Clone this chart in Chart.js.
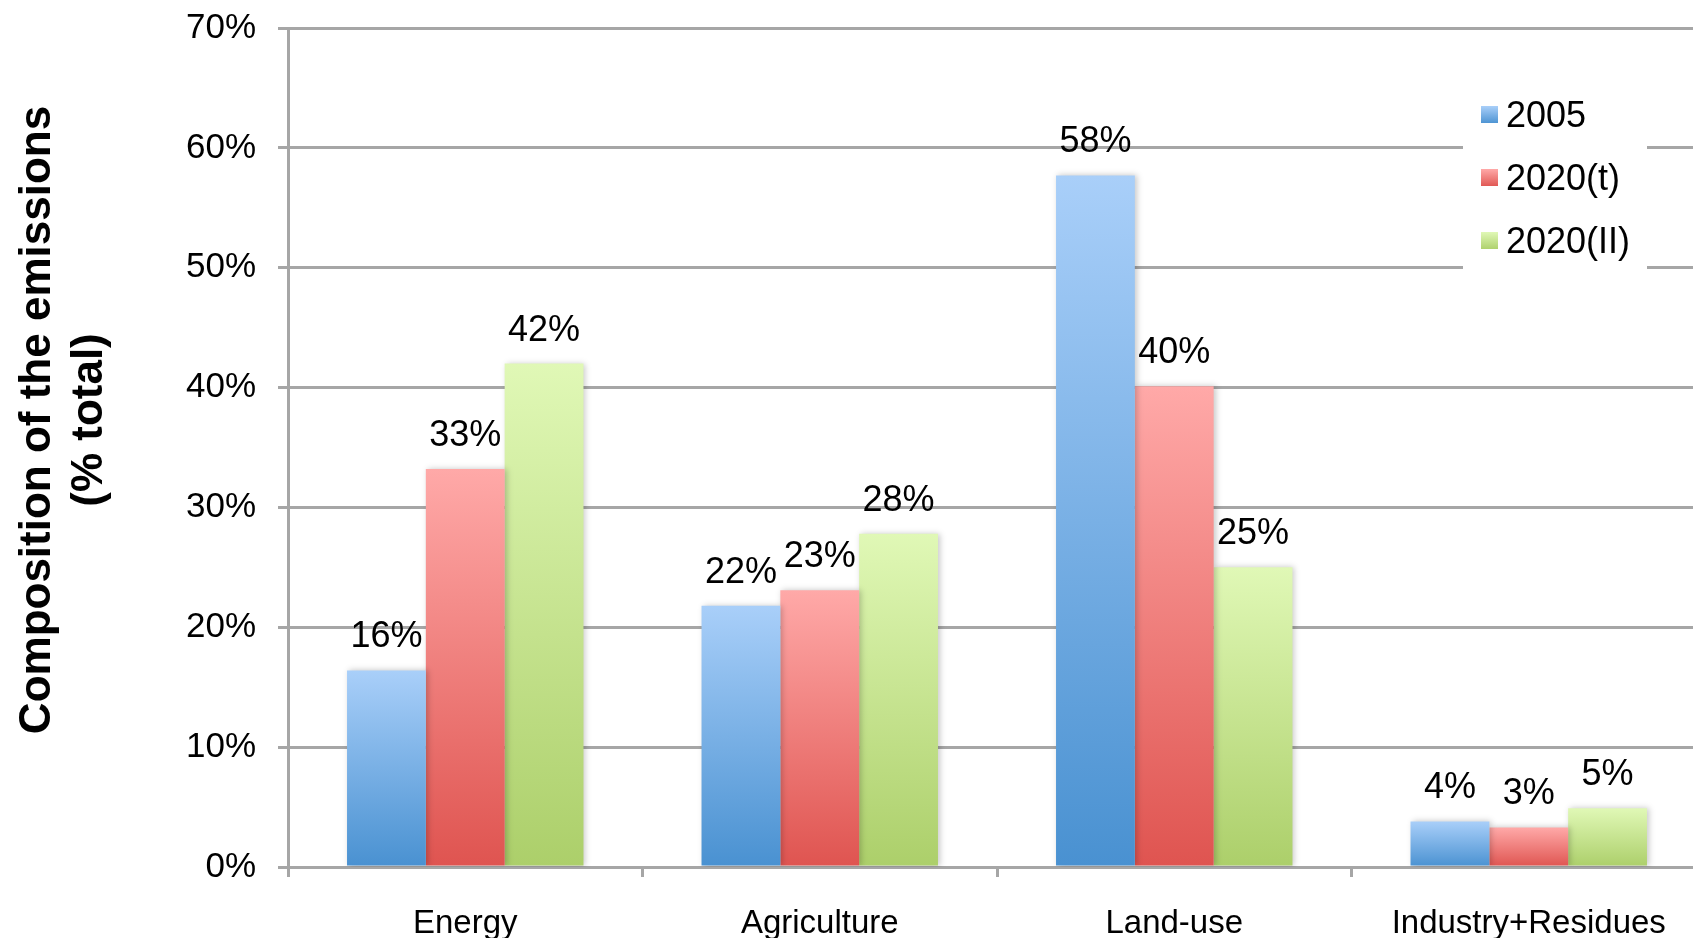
<!DOCTYPE html>
<html>
<head>
<meta charset="utf-8">
<script src="https://cdn.jsdelivr.net/npm/chart.js@4/dist/chart.umd.min.js"></script>
<style>
    html, body { margin: 0; padding: 0; background: #fff; overflow: hidden; }
    #wrap { width: 1706px; height: 938px; }
</style>
</head>
<body>
<div id="wrap"><canvas id="emissionsChart"></canvas></div>
<script>
    // emission shares per sector
    const categories = ['Energy', 'Agriculture', 'Land-use', 'Industry+Residues'];
    const seriesNames = ['2005', '2020(t)', '2020(II)'];
    const values2005 = [16.4, 21.8, 57.7, 3.8];
    const values2020t = [33.2, 23.1, 40.1, 3.3];
    const values2020II = [42.0, 27.8, 25.0, 4.9];
    const yTicks = [0, 10, 20, 30, 40, 50, 60, 70];
    const yTitle = ['Composition of the emissions', '(% total)'];

    const gridGrey = '#a6a6a6';
    const fontFamily = '"Liberation Sans", Arial, sans-serif';

    // light top -> darker bottom, for each series
    const shades = [
        ['#a9cff9', '#4991d1'],
        ['#ffa9a8', '#df5450'],
        ['#e0f8b6', '#accf6a']
    ];

    function barGradient(top, bottom) {
        return c => {
            const chart = c.chart;
            if (!chart.chartArea || c.raw == null) return bottom;
            const y = chart.scales.y;
            const g = chart.ctx.createLinearGradient(0, y.getPixelForValue(c.raw), 0, y.getPixelForValue(0));
            g.addColorStop(0, top);
            g.addColorStop(1, bottom);
            return g;
        };
    }

    // soft shadow behind the bars
    const barShadow = {
        id: 'barShadow',
        beforeDatasetsDraw(chart) {
            const ctx = chart.ctx;
            ctx.save();
            ctx.shadowColor = 'rgba(0,0,0,0.22)';
            ctx.shadowBlur = 6;
            ctx.shadowOffsetX = 2;
        },
        afterDatasetsDraw(chart) {
            chart.ctx.restore();
        }
    };

    // value labels above each bar
    const valueLabels = {
        id: 'valueLabels',
        afterDatasetsDraw(chart) {
            const ctx = chart.ctx;
            ctx.save();
            ctx.font = '36px ' + fontFamily;
            ctx.fillStyle = '#000';
            ctx.textAlign = 'center';
            ctx.textBaseline = 'alphabetic';
            chart.data.datasets.forEach((ds, i) => {
                chart.getDatasetMeta(i).data.forEach((bar, j) => {
                    ctx.fillText(Math.round(ds.data[j]) + '%', bar.x, bar.y - 23);
                });
            });
            ctx.restore();
        }
    };

    // rotated two-line axis title, sits a bit above the plot's middle
    const axisTitle = {
        id: 'axisTitle',
        afterDraw(chart) {
            const ctx = chart.ctx;
            ctx.save();
            ctx.translate(38, 420);
            ctx.rotate(-Math.PI / 2);
            ctx.font = 'bold 44px ' + fontFamily;
            ctx.fillStyle = '#000';
            ctx.textAlign = 'center';
            ctx.textBaseline = 'middle';
            yTitle.forEach((line, i) => ctx.fillText(line, 0, i * 52));
            ctx.restore();
        }
    };

    // boxed legend in the upper right corner
    const cornerLegend = {
        id: 'cornerLegend',
        afterDraw(chart) {
            const ctx = chart.ctx;
            ctx.save();
            ctx.fillStyle = '#fff';
            ctx.fillRect(1463, 86, 184, 184);
            ctx.font = '36px ' + fontFamily;
            ctx.textBaseline = 'middle';
            ctx.textAlign = 'left';
            chart.data.datasets.forEach((ds, i) => {
                const cy = 116 + i * 63;
                const g = ctx.createLinearGradient(0, cy - 10, 0, cy + 8);
                g.addColorStop(0, shades[i][0]);
                g.addColorStop(1, shades[i][1]);
                ctx.fillStyle = g;
                ctx.fillRect(1481, cy - 10, 17, 17);
                ctx.fillStyle = '#000';
                ctx.fillText(ds.label, 1506, cy + 1);
            });
            ctx.restore();
        }
    };

    const seriesValues = [values2005, values2020t, values2020II];

    var ctx = document.getElementById('emissionsChart').getContext('2d');
    var emissionsChart = new Chart(ctx, {
        type: 'bar',
        data: {
            labels: categories,
            datasets: seriesNames.map((name, i) => ({
                label: name,
                data: seriesValues[i],
                backgroundColor: barGradient(shades[i][0], shades[i][1]),
                borderWidth: 0,
                categoryPercentage: 0.667,
                barPercentage: 1.0
            }))
        },
        plugins: [barShadow, valueLabels, axisTitle, cornerLegend],
        options: {
            responsive: true,
            maintainAspectRatio: false,
            animation: false,
            layout: {
                padding: { top: 28, left: 0, right: 0, bottom: 0 }
            },
            plugins: {
                legend: { display: false },
                tooltip: { enabled: false }
            },
            scales: {
                x: {
                    grid: {
                        drawOnChartArea: false,
                        drawTicks: true,
                        tickLength: 10,
                        color: gridGrey,
                        lineWidth: 3,
                        offset: true
                    },
                    border: { color: gridGrey, width: 3 },
                    ticks: {
                        color: '#000',
                        font: { family: fontFamily, size: 33 },
                        padding: 27,
                        maxRotation: 0
                    },
                    afterFit: scale => { scale.height = 71; }
                },
                y: {
                    min: yTicks[0],
                    max: yTicks[yTicks.length - 1],
                    afterBuildTicks: scale => { scale.ticks = yTicks.map(v => ({ value: v })); },
                    ticks: {
                        color: '#000',
                        font: { family: fontFamily, size: 35 },
                        padding: 22,
                        callback: v => v + '%'
                    },
                    grid: {
                        color: gridGrey,
                        lineWidth: 3,
                        tickLength: 10
                    },
                    border: { color: gridGrey, width: 3 },
                    // fixed axis width; top label may overhang the padding
                    afterFit: scale => {
                        scale.width = 288;
                        scale.paddingTop = 0;
                        scale.paddingBottom = 0;
                    }
                }
            }
        }
    });
</script>
</body>
</html>
